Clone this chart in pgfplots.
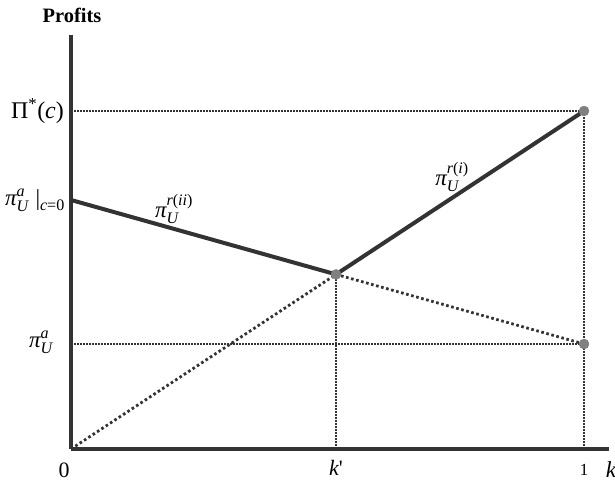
\documentclass[border=0pt]{standalone}
\usepackage{amsmath}
\usepackage{fontspec}
\setmainfont{Liberation Serif}
\usepackage{pgfplots}
\pgfplotsset{compat=1.18}

\definecolor{ink}{HTML}{333333}
\definecolor{dotgray}{HTML}{808080}

\newcommand\ti[1]{\text{\itshape #1}}
\newcommand\tu[1]{\text{\upshape #1}}

\begin{document}
\begin{tikzpicture}[x=1bp,y=1bp]
\useasboundingbox (-71,-36) rectangle (544,449);
\begin{axis}[
  at={(0,0)}, anchor=south west,
  scale only axis,
  width=538bp, height=414bp,
  xmin=0, xmax=1.0487, ymin=0, ymax=414,
  axis lines=left,
  axis line style={-, line width=3.5bp, color=ink},
  xtick=\empty, ytick=\empty,
  clip=false,
]
% guide lines
\addplot[ink, line width=1.5bp, dash pattern=on 1.5bp off 1.5bp] coordinates {(0,338) (1,338)};
\addplot[ink, line width=1.5bp, dash pattern=on 1.5bp off 1.5bp] coordinates {(0,105) (1,105)};
\addplot[ink, line width=1.5bp, dash pattern=on 1.5bp off 1.5bp] coordinates {(1,0) (1,338)};
\addplot[ink, line width=1.5bp, dash pattern=on 1.5bp off 1.5bp] coordinates {(0.5166,0) (0.5166,174.6)};
% dotted continuations
\addplot[ink, line width=2.8bp, dash pattern=on 2.6bp off 2.6bp] coordinates {(0,0) (0.5166,174.6)};
\addplot[ink, line width=2.8bp, dash pattern=on 2.6bp off 2.6bp] coordinates {(0.5166,174.6) (1,105)};
% solid profit lines
\addplot[ink, line width=4bp] coordinates {(0,249) (0.5166,174.6)};
\addplot[ink, line width=4bp] coordinates {(0.5166,174.6) (1,338)};
% points
\addplot[only marks, mark=*, mark size=5bp, mark options={draw=dotgray, fill=dotgray}]
  coordinates {(0.5166,174.6) (1,338) (1,105)};
\end{axis}

\node[font=\bfseries\fontsize{20.5}{24}\selectfont] at (1,434) {Profits};
\node[anchor=east, inner sep=0pt, font=\fontsize{24}{28}\selectfont] at (-7,338)
  {$\tu{Π}^{\tu{*}}\tu{(}\ti{c}\tu{)}$};
\node[anchor=east, inner sep=0pt, font=\fontsize{23}{27}\selectfont] at (-6,249)
  {$\ti{π}^{\ti{a}}_{\ti{U}}\;\tu{|}_{\ti{c}\tu{=0}}$};
\node[anchor=east, inner sep=0pt, font=\fontsize{23}{27}\selectfont] at (-18,107)
  {$\ti{π}^{\ti{a}}_{\ti{U}}$};
\node[font=\fontsize{23}{27}\selectfont] at (103,240)
  {$\ti{π}^{\ti{r}\tu{(}\ti{ii}\tu{)}}_{\ti{U}}$};
\node[font=\fontsize{23}{27}\selectfont] at (381,272)
  {$\ti{π}^{\ti{r}\tu{(}\ti{i}\tu{)}}_{\ti{U}}$};
\node[font=\fontsize{22}{26}\selectfont] at (-7,-21) {0};
\node[font=\fontsize{22}{26}\selectfont] at (265,-19) {\itshape k\upshape\textquotesingle};
\node[font=\fontsize{17}{20}\selectfont] at (513,-21) {1};
\node[font=\fontsize{23}{27}\selectfont] at (540,-21) {\itshape k};
\end{tikzpicture}
\end{document}
